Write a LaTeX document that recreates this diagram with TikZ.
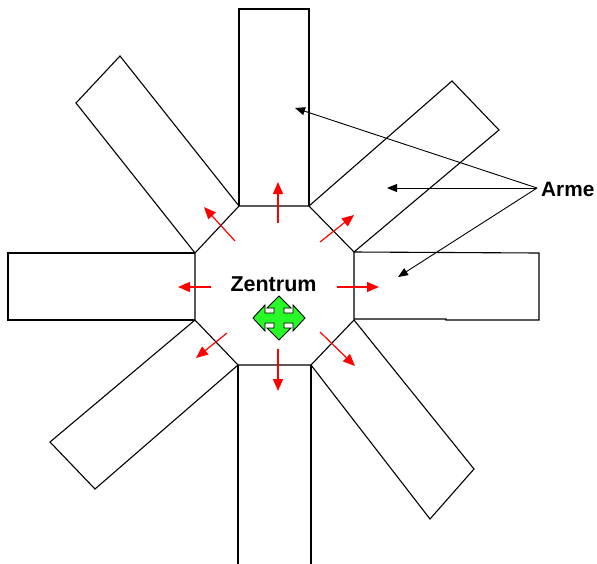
\documentclass[tikz,border=0pt]{standalone}
\usepackage{fontspec}
\setmainfont{Liberation Sans}
\usetikzlibrary{arrows.meta}
\definecolor{crossgreen}{RGB}{40,250,40}
\tikzset{
  outline/.style={draw=black, line width=1.1pt, line join=miter},
  push/.style={draw=red, line width=1.2pt, -{Triangle[length=12pt,width=10pt]}},
  pointer/.style={draw=black, line width=0.9pt, -{Triangle[length=10pt,width=8pt]}},
  label/.style={inner sep=0pt, font=\bfseries},
}
\begin{document}
\begin{tikzpicture}[x=1pt, y=-1pt]
\useasboundingbox (0,0) rectangle (597,563);

% octagon corners
\coordinate (o1) at (239,206);
\coordinate (o2) at (309,206);
\coordinate (o3) at (354,252);
\coordinate (o4) at (354,320);
\coordinate (o5) at (311,365);
\coordinate (o6) at (238,365);
\coordinate (o7) at (195,320);
\coordinate (o8) at (195,253);

% central octagon
\draw[outline] (o1) -- (o2) -- (o3) -- (o4) -- (o5) -- (o6) -- (o7) -- (o8) -- cycle;

% straight arms
\draw[outline] (o1) -- (239,9) -- (309,9) -- (o2);
\draw[outline] (o8) -- (8,253) -- (8,320) -- (o7);
\draw[outline] (o3) -- (539,253) -- (539,320) -- (446,320) -- (446,319) -- (354,319);
\draw[outline] (o6) -- (238,566);
\draw[outline] (o5) -- (311,566);

% diagonal arms
\draw[outline] (o1) -- (120,56) -- (76,103) -- (o8);
\draw[outline] (o2) -- (452,81) -- (499,130) -- (o3);
\draw[outline] (o7) -- (50,442) -- (95,489) -- (o6);
\draw[outline] (o4) -- (474,469) -- (430,519) -- (o5);

% outward pushes from the centre
\coordinate (pu0) at (278,223); \coordinate (pu1) at (278,182);
\coordinate (pul0) at (235,241); \coordinate (pul1) at (204,207);
\coordinate (pur0) at (320,242); \coordinate (pur1) at (354,215);
\coordinate (pl0) at (211,287); \coordinate (pl1) at (178,287);
\coordinate (pr0) at (337,287); \coordinate (pr1) at (379,287);
\coordinate (pdl0) at (227,333); \coordinate (pdl1) at (196,358);
\coordinate (pdr0) at (320,332); \coordinate (pdr1) at (355,366);
\coordinate (pd0) at (278,349); \coordinate (pd1) at (278,391);
\draw[push] (pu0) -- (pu1);
\draw[push] (pul0) -- (pul1);
\draw[push] (pur0) -- (pur1);
\draw[push] (pl0) -- (pl1);
\draw[push] (pr0) -- (pr1);
\draw[push] (pdl0) -- (pdl1);
\draw[push] (pdr0) -- (pdr1);
\draw[push] (pd0) -- (pd1);

% centre label and four-way move symbol
\node[label, font=\bfseries\fontsize{21.5}{24}\selectfont, anchor=base] (zentrum) at (273.5,291) {Zentrum};
\draw[fill=crossgreen, draw=black, line width=0.9pt, line join=miter, shift={(279,318)}]
  (0,-22) -- (12,-10) -- (5,-10) -- (5,-5) -- (14,-5) -- (14,-13) -- (26,0)
  -- (14,13) -- (14,5) -- (5,5) -- (5,10) -- (12,10) -- (0,22) -- (-12,10)
  -- (-5,10) -- (-5,5) -- (-14,5) -- (-14,13) -- (-26,0) -- (-14,-13)
  -- (-14,-5) -- (-5,-5) -- (-5,-10) -- (-12,-10) -- cycle;

% arm label with pointers
\node[label, font=\bfseries\fontsize{20.8}{24}\selectfont, anchor=base west] (arme) at (541,196) {Arme};
\coordinate (src) at (537,188);
\coordinate (t1) at (295,108);
\coordinate (t2) at (387,188);
\coordinate (t3) at (398,277);
\draw[pointer] (src) -- (t1);
\draw[pointer] (src) -- (t2);
\draw[pointer] (src) -- (t3);
\end{tikzpicture}
\end{document}
